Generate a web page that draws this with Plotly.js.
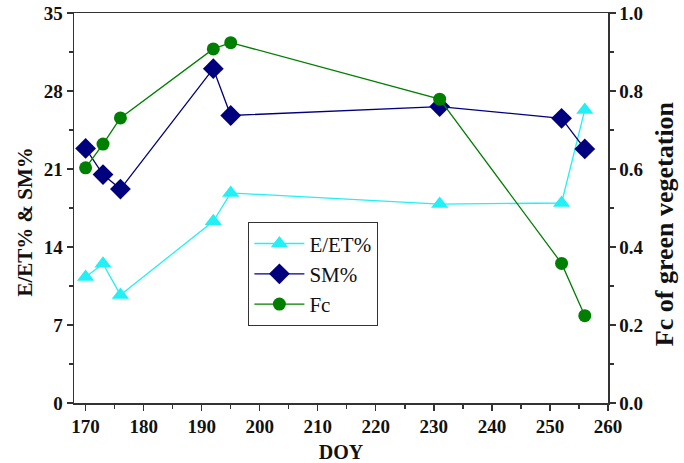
<!DOCTYPE html>
<html><head><meta charset="utf-8">
<script src="https://cdn.plot.ly/plotly-3.0.1.min.js"></script>
<style>body{margin:0;padding:0;background:#fff}#chart{width:684px;height:463px}</style>
</head><body><div id="chart"></div>
<script>
const doy = [170, 173, 176, 192, 195, 231, 252, 256];
const eet = [11.3, 12.5, 9.7, 16.3, 18.85, 17.85, 17.95, 26.3];
const sm = [22.85, 20.5, 19.2, 30.0, 25.8, 26.6, 25.55, 22.8];
const fc = [0.603, 0.664, 0.731, 0.908, 0.924, 0.779, 0.358, 0.224];
const names = ['E/ET%', 'SM%', 'Fc'];
const colors = ['#22f0f5', '#00007f', '#007f00'];
const yTitleLeft = 'E/ET% & SM%';
const yTitleRight = 'Fc of green vegetation';
const xTitle = 'DOY';

const serif = '"Liberation Serif", "Times New Roman", serif';
const traces = [
  {x: doy, y: eet, name: names[0], mode: 'lines+markers', line: {color: colors[0], width: 1.3},
   marker: {symbol: 'triangle-up', size: 15, color: colors[0]}},
  {x: doy, y: sm, name: names[1], mode: 'lines+markers', line: {color: colors[1], width: 1.3},
   marker: {symbol: 'diamond', size: 16, color: colors[1]}},
  {x: doy, y: fc, name: names[2], yaxis: 'y2', mode: 'lines+markers', line: {color: colors[2], width: 1.3},
   marker: {symbol: 'circle', size: 13, color: colors[2]}}
];
const axCol = '#333';
const tf = {family: serif, size: 19, weight: 'bold', color: '#111'};
const layout = {
  width: 684, height: 463,
  margin: {l: 74, r: 76, t: 13, b: 60},
  paper_bgcolor: '#fff', plot_bgcolor: '#fff',
  font: {family: serif, color: '#111'},
  showlegend: true,
  legend: {x: 0.326, y: 0.464, xanchor: 'left', yanchor: 'top', bordercolor: '#333', borderwidth: 1.3,
    bgcolor: '#fff', font: {family: serif, size: 21, color: '#111'}, tracegroupgap: 0, itemwidth: 50},
  xaxis: {range: [168, 260], tick0: 170, dtick: 10, ticks: 'outside', ticklen: 6, tickwidth: 1.3, tickcolor: axCol,
    minor: {dtick: 5, ticks: 'outside', ticklen: 4, tickcolor: axCol, tickwidth: 1.3},
    showline: true, linecolor: axCol, linewidth: 1.5, mirror: true, showgrid: false, zeroline: false,
    tickfont: tf,
    title: {text: xTitle, font: {family: serif, size: 20, weight: 'bold', color: '#111'}, standoff: 12}},
  yaxis: {range: [0, 35], tick0: 0, dtick: 7, ticks: 'outside', ticklen: 6, tickwidth: 1.3, tickcolor: axCol,
    minor: {dtick: 3.5, ticks: 'outside', ticklen: 4, tickcolor: axCol, tickwidth: 1.3},
    showline: true, linecolor: axCol, linewidth: 1.5, showgrid: false, zeroline: false,
    tickfont: tf},
  yaxis2: {range: [0, 1], overlaying: 'y', side: 'right', tick0: 0, dtick: 0.2, tickformat: '.1f',
    ticks: 'outside', ticklen: 6, tickwidth: 1.3, tickcolor: axCol,
    minor: {dtick: 0.1, ticks: 'outside', ticklen: 4, tickcolor: axCol, tickwidth: 1.3},
    showline: true, linecolor: axCol, linewidth: 1.5, showgrid: false, zeroline: false,
    tickfont: tf},
  annotations: [
    {text: yTitleLeft, xref: 'paper', yref: 'paper', x: -0.092, y: 0.465, xanchor: 'center', yanchor: 'middle',
     textangle: -90, showarrow: false, font: {family: serif, size: 21, weight: 'bold', color: '#111'}},
    {text: yTitleRight, xref: 'paper', yref: 'paper', x: 1.106, y: 0.46, xanchor: 'center', yanchor: 'middle',
     textangle: -90, showarrow: false, font: {family: serif, size: 26, weight: 'bold', color: '#111'}}
  ]
};
Plotly.newPlot('chart', traces, layout, {displayModeBar: false, staticPlot: true});
</script></body></html>
